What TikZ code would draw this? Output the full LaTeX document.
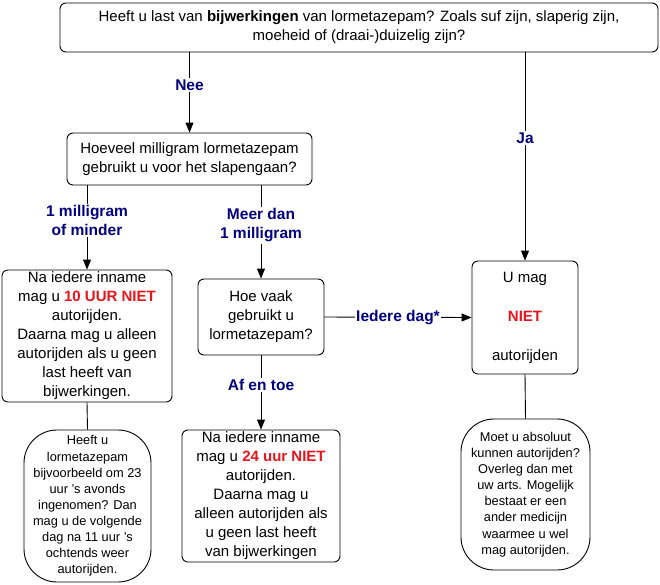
\documentclass[tikz,border=0pt]{standalone}
\usepackage{fontspec}
\setmainfont{Liberation Sans}
\usetikzlibrary{arrows.meta, positioning}
\definecolor{lblblue}{HTML}{000080}
\definecolor{warnred}{HTML}{E8141B}

\begin{document}
\begin{tikzpicture}[
		x=1pt, y=-1pt,
		box/.style={draw, rounded corners=6pt, align=center, inner sep=0pt, line width=0.9pt, font=\fontsize{15}{19}\selectfont},
		note/.style={draw, rounded corners=33pt, align=center, inner sep=0pt, line width=0.9pt, font=\fontsize{12.8}{16.1}\selectfont},
		arr/.style={-{Triangle[length=10pt, width=8pt]}, line width=0.9pt},
		link/.style={line width=0.9pt},
		lbl/.style={fill=white, text=lblblue, align=center, inner sep=1.5pt, font=\bfseries\fontsize{15.5}{19}\selectfont}
		]
		
		\useasboundingbox (0,0) rectangle (660,584);
		
		% Questions
		\node[box, minimum width=598pt, minimum height=49pt] (bijw) at (359,27.5) {Heeft u last van \textbf{bijwerkingen} van lormetazepam? Zoals suf zijn, slaperig zijn,\\moeheid of (draai-)duizelig zijn?};
		\node[box, minimum width=245pt, minimum height=52pt] (dosis) at (189.5,159) {Hoeveel milligram lormetazepam\\gebruikt u voor het slapengaan?};
		\node[box, minimum width=126pt, minimum height=76pt] (vaak) at (261,317) {Hoe vaak\\gebruikt u\\lormetazepam?};
		
		% Answers
		\node[box, minimum width=170pt, minimum height=132pt] (tienuur) at (87,336) {Na iedere inname\\mag u \textcolor{warnred}{\textbf{10 UUR NIET}}\\autorijden.\\Daarna mag u alleen\\autorijden als u geen\\last heeft van\\bijwerkingen.};
		\node[box, minimum width=158pt, minimum height=132pt] (vierentwintig) at (261,496) {Na iedere inname\\mag u \textcolor{warnred}{\textbf{24 uur NIET}}\\autorijden.\\Daarna mag u\\alleen autorijden als\\u geen last heeft\\van bijwerkingen};
		\node[box, minimum width=106pt, minimum height=113pt] (niet) at (525,317.5) {U mag\\[20pt]\textcolor{warnred}{\textbf{NIET}}\\[20pt]autorijden};
		
		% Notes
		\node[note, minimum width=127pt, minimum height=152pt] (voorbeeld) at (87.5,506) {Heeft u\\lormetazepam\\bijvoorbeeld om 23\\uur 's avonds\\ingenomen? Dan\\mag u de volgende\\dag na 11 uur 's\\ochtends weer\\autorijden.};
		\node[note, minimum width=129pt, minimum height=151pt] (overleg) at (525.5,494.5) {Moet u absoluut\\kunnen autorijden?\\Overleg dan met\\uw arts. Mogelijk\\bestaat er een\\ander medicijn\\waarmee u wel\\mag autorijden.};
		
		% Connectors
		\draw[arr] (dosis.north |- bijw.south) -- node[lbl, pos=0.41] {Nee} (dosis.north);
		\draw[arr] (niet.north |- bijw.south) -- node[lbl, pos=0.41] {Ja} (niet.north);
		\draw[arr] (dosis.south -| tienuur.north) -- node[lbl, pos=0.42] {1 milligram\\of minder} (tienuur.north);
		\draw[arr] (dosis.south -| vaak.north) -- node[lbl, pos=0.43] {Meer dan\\1 milligram} (vaak.north);
		\draw[arr] (vaak.east) -- node[lbl] {Iedere dag*} (niet.west);
		\draw[arr] (vaak.south) -- node[lbl, pos=0.4] {Af en toe} (vierentwintig.north);
		\draw[link] (tienuur.south) -- (voorbeeld.north);
		\draw[link] (niet.south) -- (overleg.north);
		
	\end{tikzpicture}
\end{document}
